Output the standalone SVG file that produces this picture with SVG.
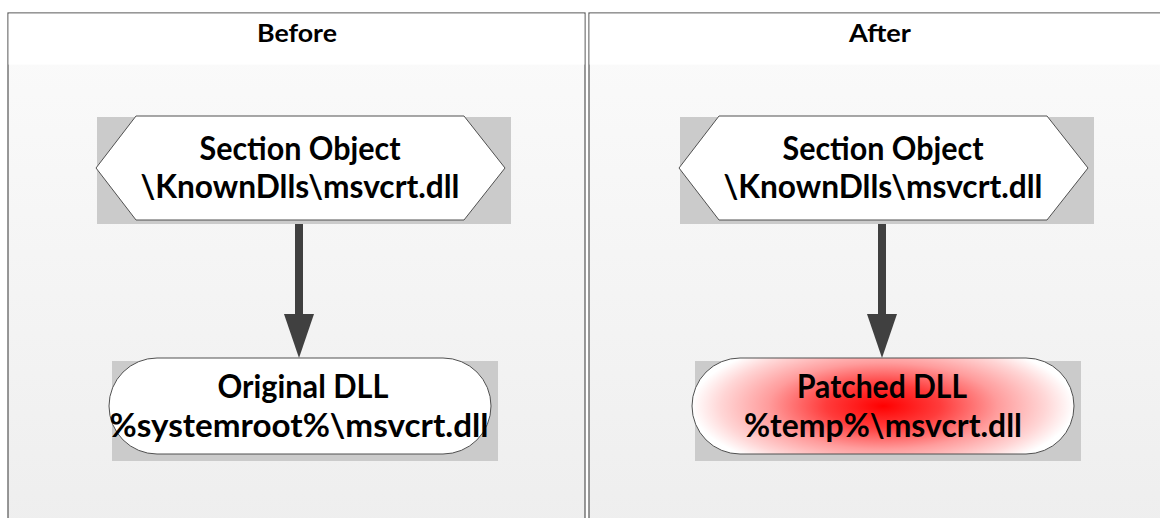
<svg xmlns="http://www.w3.org/2000/svg" width="1160" height="518" viewBox="0 0 1160 518">
  <defs>
    <linearGradient id="panelFill" x1="0" y1="0" x2="0" y2="1">
      <stop offset="0" stop-color="#fbfbfb"/>
      <stop offset="1" stop-color="#eeeeee"/>
    </linearGradient>
    <radialGradient id="patchFill" cx="0.5" cy="0.5" r="0.5" gradientTransform="translate(0.5 0.5) scale(1 1.5) translate(-0.5 -0.5)">
      <stop offset="0" stop-color="#ff0000"/>
      <stop offset="0.3" stop-color="#ff3c3c"/>
      <stop offset="0.6" stop-color="#ff9c9c"/>
      <stop offset="0.85" stop-color="#ffd6d6"/>
      <stop offset="1" stop-color="#ffffff"/>
    </radialGradient>
    <!-- arrowhead drawn along +x so orient="auto" turns it with the line -->
    <marker id="arrowHead" markerUnits="userSpaceOnUse" markerWidth="44" markerHeight="30" refX="0" refY="15" orient="auto" viewBox="0 0 44 30">
      <path d="M0,0 L44,15 L0,30 Z" fill="#404040"/>
    </marker>
  </defs>
  <style>
    .panel { fill: url(#panelFill); stroke: #555555; stroke-width: 1.2; }
    .header { fill: #ffffff; }
    .title { font-family: Lato, "Liberation Sans", sans-serif; font-weight: bold; font-size: 25px; fill: #000000; text-anchor: middle; }
    .label { font-family: Lato, "Liberation Sans", sans-serif; font-weight: bold; font-size: 32px; fill: #000000; text-anchor: middle; }
    .shadow { fill: #cbcbcb; }
    .shape { fill: #ffffff; stroke: #505050; stroke-width: 1; }
    .link { stroke: #404040; stroke-width: 8; stroke-linecap: round; fill: none; }
  </style>

  <!-- page background -->
  <rect x="0" y="0" width="1160" height="518" fill="#ffffff"/>

  <!-- Before panel -->
  <g id="panel-before">
    <rect class="panel" x="8" y="13" width="577" height="520"/>
    <rect class="header" x="8.6" y="13.6" width="575.8" height="51"/>
    <text class="title" x="297" y="42" textLength="80" lengthAdjust="spacingAndGlyphs">Before</text>
  </g>

  <!-- After panel -->
  <g id="panel-after">
    <rect class="panel" x="589" y="13" width="580" height="520"/>
    <rect class="header" x="589.6" y="13.6" width="578.8" height="51"/>
    <text class="title" x="880" y="42" textLength="62" lengthAdjust="spacingAndGlyphs">After</text>
  </g>

  <!-- connectors -->
  <g id="connectors">
    <line class="link" x1="299" y1="216" x2="299" y2="314" marker-end="url(#arrowHead)"/>
    <line class="link" x1="882" y1="216" x2="882" y2="314" marker-end="url(#arrowHead)"/>
  </g>

  <!-- Section object, before -->
  <g id="section-before">
    <rect class="shadow" x="97" y="117" width="414" height="107"/>
    <polygon class="shape" points="96,168 136,116 464,116 505,168 464,220 136,220"/>
    <text class="label" x="300" y="160" textLength="201" lengthAdjust="spacingAndGlyphs">Section Object</text>
    <text class="label" x="300" y="198" textLength="319" lengthAdjust="spacingAndGlyphs">\KnownDlls\msvcrt.dll</text>
  </g>

  <!-- Original DLL -->
  <g id="original-dll">
    <rect class="shadow" x="112" y="361" width="386" height="100"/>
    <rect class="shape" x="109" y="358" width="382" height="96" rx="48" ry="48"/>
    <text class="label" x="303" y="398" textLength="171" lengthAdjust="spacingAndGlyphs">Original DLL</text>
    <text class="label" x="299" y="437" textLength="379" lengthAdjust="spacingAndGlyphs">%systemroot%\msvcrt.dll</text>
  </g>

  <!-- Section object, after -->
  <g id="section-after">
    <rect class="shadow" x="680" y="117" width="414" height="107"/>
    <polygon class="shape" points="679,168 719,116 1047,116 1088,168 1047,220 719,220"/>
    <text class="label" x="883" y="160" textLength="201" lengthAdjust="spacingAndGlyphs">Section Object</text>
    <text class="label" x="883" y="198" textLength="319" lengthAdjust="spacingAndGlyphs">\KnownDlls\msvcrt.dll</text>
  </g>

  <!-- Patched DLL -->
  <g id="patched-dll">
    <rect class="shadow" x="695" y="361" width="386" height="100"/>
    <rect class="shape" x="692" y="358" width="382" height="96" rx="48" ry="48" style="fill: url(#patchFill)"/>
    <text class="label" x="882" y="398" textLength="170" lengthAdjust="spacingAndGlyphs">Patched DLL</text>
    <text class="label" x="883" y="437" textLength="278" lengthAdjust="spacingAndGlyphs">%temp%\msvcrt.dll</text>
  </g>
</svg>
